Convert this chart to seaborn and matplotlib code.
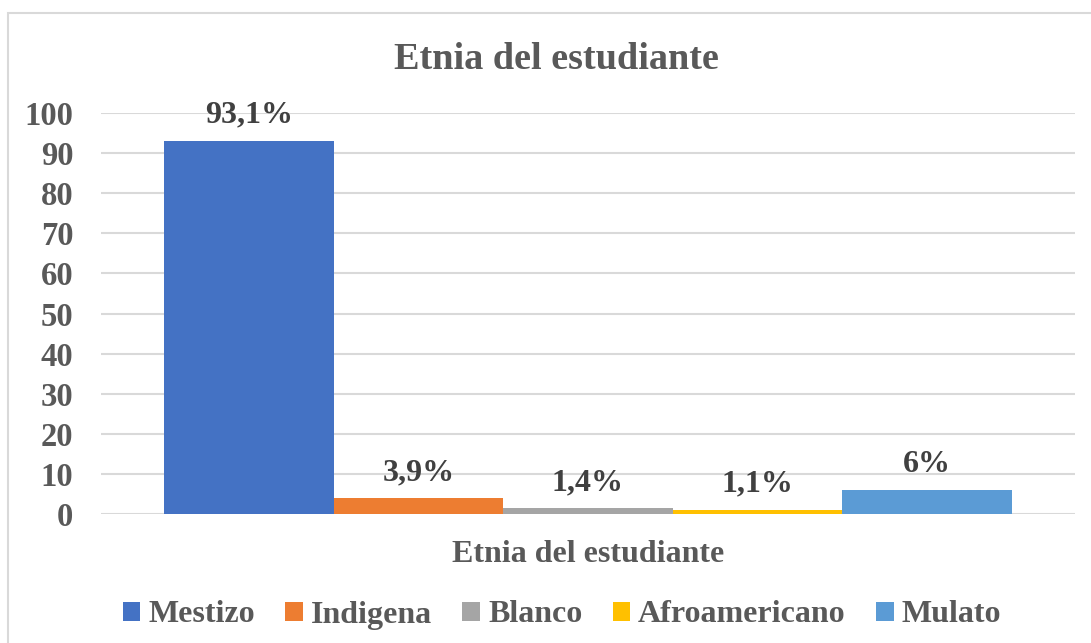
import matplotlib
matplotlib.use("Agg")
import matplotlib.pyplot as plt
from matplotlib.patches import Rectangle
import seaborn as sns
import pandas as pd

categorias = ["Mestizo", "Indigena", "Blanco", "Afroamericano", "Mulato"]
valores = [93.1, 3.9, 1.4, 1.1, 6.0]
etiquetas = ["93,1%", "3,9%", "1,4%", "1,1%", "6%"]
colores = ["#4472C4", "#ED7D31", "#A5A5A5", "#FFC000", "#5B9BD5"]
yticks = [0, 10, 20, 30, 40, 50, 60, 70, 80, 90, 100]
titulo = "Etnia del estudiante"
eje_x = "Etnia del estudiante"

sns.set_theme(style="white")
plt.rcParams["font.family"] = ["Liberation Serif", "DejaVu Serif"]
plt.rcParams["font.weight"] = "bold"

W, H = 1091, 643
fig = plt.figure(figsize=(W / 100, H / 100), dpi=100)
fig.patch.set_facecolor("white")

# chart border
fig.add_artist(Rectangle((8 / W, -0.1), 1.2, 1 - 13 / H + 0.1, transform=fig.transFigure,
                         fill=False, edgecolor="#D9D9D9", linewidth=1.5))

ax = fig.add_axes([101 / W, 1 - 514 / H, (1075 - 101) / W, (514 - 113) / H])

df = pd.DataFrame({"etnia": categorias, "valor": valores})
sns.barplot(data=df, x="etnia", y="valor", hue="etnia", palette=colores,
            hue_order=categorias, order=categorias, width=1.0, saturation=1,
            legend=True, ax=ax, linewidth=0)

ax.set_ylim(0, 100)
ax.set_xlim(-0.5 - 63 / 170, 4.5 + 63 / 170)
ax.set_yticks(yticks)
ax.set_yticklabels([str(t) for t in yticks])
ax.set_xticks([])
ax.set_ylabel("")
ax.yaxis.grid(True, color="#D9D9D9", linewidth=1.5)
ax.set_axisbelow(True)
for s in ax.spines.values():
    s.set_visible(False)
ax.tick_params(axis="y", length=0, pad=20, labelsize=23.5, labelcolor="#595959")
for lab in ax.get_yticklabels():
    lab.set_fontweight("bold")

# data labels
for i, (v, t) in enumerate(zip(valores, etiquetas)):
    ax.annotate(t, xy=(i, v), xytext=(0, 13), textcoords="offset points",
                ha="center", va="baseline", fontsize=23, fontweight="bold",
                color="#404040")

ax.set_xlabel(eje_x, fontsize=23, fontweight="bold", color="#595959", va="baseline")
ax.xaxis.set_label_coords(0.5, -(562 - 514) / (514 - 113))

fig.text(556 / W, 1 - 69 / H, titulo, ha="center", va="baseline",
         fontsize=27.5, fontweight="bold", color="#595959")

sns.move_legend(ax, "center", bbox_to_anchor=(562 / W, 1 - 615 / H),
                bbox_transform=fig.transFigure, ncol=5, frameon=False, title=None,
                prop={"size": 23, "weight": "bold"}, labelcolor="#595959",
                handlelength=0.55, handleheight=0.55, handletextpad=0.25,
                columnspacing=0.95, borderaxespad=0)

fig.savefig("out.png", dpi=100, facecolor="white")
